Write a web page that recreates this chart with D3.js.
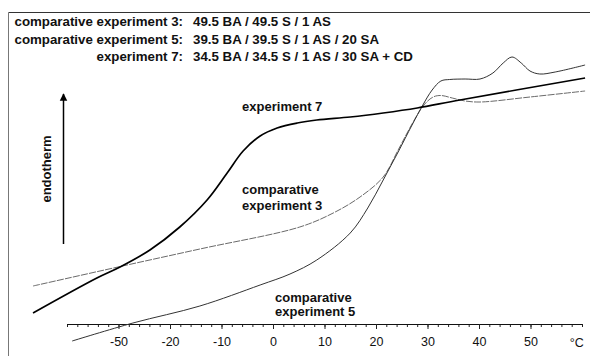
<!DOCTYPE html>
<html>
<head>
<meta charset="utf-8">
<script src="https://cdn.jsdelivr.net/npm/d3@7"></script>
<style>
  html, body { margin: 0; padding: 0; background: #fff; }
  svg { display: block; }
  text { font-family: "Liberation Sans", Arial, Helvetica, sans-serif; fill: #111; }
</style>
</head>
<body>
<svg id="chart" width="595" height="356"></svg>
<script>
// DSC traces: temperature (°C) vs. heat flow (arbitrary units, endotherm up)
const exp7Temp  = [-46.6, -34.2, -29.7, -23.9, -18.1, -12.8, -8.9, -5.8, -2.5, 0.8, 4.7, 8.5, 15.0, 21.4, 28.0, 36.3, 60.6];
const exp7Heat  = [17, 52, 63, 80, 103, 130, 157, 179, 194, 202, 207, 210, 213, 217, 222, 230, 252];

const comp3Temp = [-46.6, -30.1, -14.2, 5.2, 11.7, 16.9, 21.4, 24.3, 27.0, 29.3, 31.1, 32.6, 34.8, 37.3, 40.2, 49.9, 60.6];
const comp3Heat = [44, 63, 81, 103, 117, 133, 153, 180, 206, 225, 233, 234.5, 232, 229, 228, 233, 239];

const comp5Temp = [-39.0, -27.2, -14.2, -2.5, 3.3, 8.5, 15.0, 18.4, 21.4, 24.3, 27.0, 29.1, 30.9, 32.6, 34.3, 37.3, 40.2, 42.7, 44.7, 46.4, 48.2, 49.9, 51.8, 54.8, 60.6];
const comp5Heat = [-11, 7, 24, 45, 56, 70, 97, 122, 150, 178, 205, 225, 240, 249, 250.5, 251, 251, 257, 267, 273, 267, 259, 256, 258, 265];

const tickTemps  = [-30, -20, -10, 0, 10, 20, 30, 40, 50];
const tickLabels = ["-50", "-20", "-10", "0", "10", "20", "30", "40", "50"];
const unitLabel  = "°C";

const headerNames  = ["comparative experiment 3:", "comparative experiment 5:", "experiment 7:"];
const headerRecipe = ["49.5 BA / 49.5 S / 1 AS", "39.5 BA / 39.5 S / 1 AS / 20 SA", "34.5 BA / 34.5 S / 1 AS / 30 SA + CD"];

const svg = d3.select("#chart");

const x = d3.scaleLinear().domain([-40, 60]).range([67, 582]);
const y = d3.scaleLinear().domain([0, 300]).range([330, 30]);

// frame (top and left edges)
svg.append("line").attr("x1", 8.5).attr("x2", 590).attr("y1", 12.5).attr("y2", 12.5)
  .attr("stroke", "#333").attr("stroke-width", 1);
svg.append("line").attr("x1", 8.5).attr("x2", 8.5).attr("y1", 12.5).attr("y2", 356)
  .attr("stroke", "#777").attr("stroke-width", 1);

// header block
const hdr = svg.append("g").attr("font-weight", "bold").attr("font-size", 13.3);
headerNames.forEach((n, i) => {
  const by = 26 + i * 17.5;
  hdr.append("text").attr("x", 183).attr("y", by).attr("text-anchor", "end").text(n);
  hdr.append("text").attr("x", 193).attr("y", by).text(headerRecipe[i]);
});

// temperature axis
const axisY = 324;
const minor = d3.range(-40, 61, 2);
const gMinor = svg.append("g").attr("transform", `translate(0,${axisY})`)
  .call(d3.axisBottom(x).tickValues(minor).tickSize(3).tickFormat(""));
const gMajor = svg.append("g").attr("transform", `translate(0,${axisY})`)
  .call(d3.axisBottom(x).tickValues(tickTemps).tickSize(5).tickSizeOuter(0).tickPadding(8)
    .tickFormat((d, i) => tickLabels[i]));
[gMinor, gMajor].forEach(g => {
  g.select(".domain").attr("stroke", "#111").attr("d", `M${x.range()[0]},0.5H${x.range()[1]}`);
  g.selectAll(".tick line").attr("stroke", "#222");
});
gMajor.selectAll(".tick text").attr("font-size", 12.5).attr("fill", "#111")
  .attr("font-family", "Liberation Sans, Arial, sans-serif");
svg.append("text").attr("x", x(59)).attr("y", axisY + 23).attr("text-anchor", "middle")
  .attr("font-size", 12.5).text(unitLabel);

// traces
const line = d3.line().x(d => x(d[0])).y(d => y(d[1])).curve(d3.curveCatmullRom.alpha(0.5));
const series = [
  { t: comp3Temp, h: comp3Heat, stroke: "#6a6a6a", width: 1.0, dash: "7,1.2" },
  { t: comp5Temp, h: comp5Heat, stroke: "#333", width: 1.0, dash: null },
  { t: exp7Temp,  h: exp7Heat,  stroke: "#000", width: 1.7, dash: null }
];
series.forEach(s => {
  svg.append("path")
    .datum(s.t.map((t, i) => [t, s.h[i]]))
    .attr("fill", "none")
    .attr("stroke", s.stroke)
    .attr("stroke-width", s.width)
    .attr("stroke-dasharray", s.dash)
    .attr("stroke-linejoin", "round")
    .attr("d", line);
});

// curve labels
const lab = svg.append("g").attr("font-weight", "bold").attr("font-size", 13);
lab.append("text").attr("x", x(-6.0)).attr("y", y(219)).text("experiment 7");
lab.append("text").attr("x", x(-6.0)).attr("y", y(136)).text("comparative");
lab.append("text").attr("x", x(-6.0)).attr("y", y(120)).text("experiment 3");
lab.append("text").attr("x", x(0.4)).attr("y", y(28)).text("comparative");
lab.append("text").attr("x", x(0.4)).attr("y", y(14)).text("experiment 5");

// endotherm arrow
const defs = svg.append("defs");
defs.append("marker").attr("id", "head").attr("viewBox", "0 0 10 10")
  .attr("refX", 9).attr("refY", 5).attr("markerWidth", 5).attr("markerHeight", 7)
  .attr("markerUnits", "strokeWidth").attr("orient", "auto")
  .append("path").attr("d", "M0,0L10,5L0,10Z").attr("fill", "#000");
svg.append("line").attr("x1", 63.5).attr("x2", 63.5).attr("y1", 244).attr("y2", 94)
  .attr("stroke", "#000").attr("stroke-width", 1.5).attr("marker-end", "url(#head)");
svg.append("text").attr("transform", "translate(51,169) rotate(-90)")
  .attr("text-anchor", "middle").attr("font-weight", "bold").attr("font-size", 13)
  .text("endotherm");
</script>
</body>
</html>
